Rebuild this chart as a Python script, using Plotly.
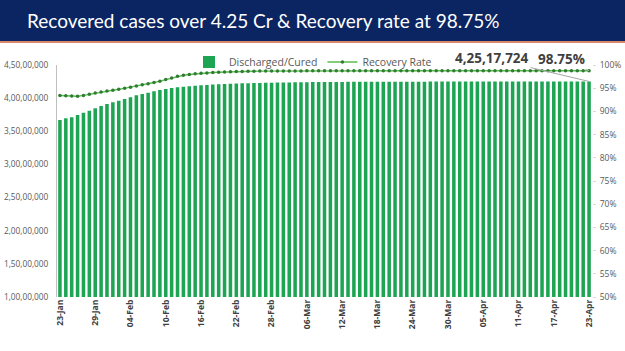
import pandas as pd
import plotly.graph_objects as go

# ---------------- data ----------------
dates = pd.date_range("2022-01-23", "2022-04-23", freq="D")

discharged = [
    36700000, 36960000, 37110000, 37460000, 37800000, 38100000, 38470000, 38810000,
    39120000, 39370000, 39610000, 39870000, 40130000, 40430000, 40620000, 40820000,
    41030000, 41230000, 41380000, 41530000, 41640000, 41730000, 41810000, 41880000,
    41945000, 42000000, 42050000, 42095000, 42135000, 42170000, 42200000, 42228000,
    42252000, 42274000, 42294000, 42312000, 42330000, 42346000, 42361000, 42375000,
    42388000, 42400000, 42409000, 42417000, 42425000, 42432000, 42439000, 42445000,
    42450000, 42455000, 42459000, 42463000, 42467000, 42470000, 42473000, 42476000,
    42479000, 42481000, 42483000, 42485000, 42487000, 42489000, 42491000, 42492500,
    42494000, 42495500, 42497000, 42498500, 42500000, 42501200, 42502400, 42503500,
    42504600, 42505700, 42506700, 42507600, 42508500, 42509300, 42510100, 42510800,
    42511500, 42512200, 42512900, 42513600, 42514300, 42515000, 42515600, 42516200,
    42516700, 42517200, 42517724,
]

recovery_rate = [
    93.42, 93.36, 93.30, 93.27, 93.45, 93.70, 93.94, 94.16, 94.37, 94.55,
    94.75, 94.97, 95.22, 95.46, 95.72, 95.96, 96.23, 96.52, 96.86, 97.22,
    97.56, 97.80, 97.96, 98.09, 98.20, 98.29, 98.37, 98.44, 98.50, 98.55,
    98.59, 98.62, 98.64, 98.66, 98.68, 98.69, 98.70, 98.71, 98.72, 98.72,
    98.73, 98.73, 98.74, 98.74, 98.74, 98.75, 98.75, 98.75, 98.75, 98.75,
    98.75, 98.75, 98.76, 98.76, 98.76, 98.76, 98.76, 98.76, 98.76, 98.76,
    98.76, 98.76, 98.76, 98.76, 98.76, 98.76, 98.76, 98.76, 98.76, 98.76,
    98.76, 98.76, 98.76, 98.76, 98.76, 98.76, 98.76, 98.76, 98.76, 98.76,
    98.76, 98.76, 98.76, 98.75, 98.75, 98.75, 98.75, 98.75, 98.75, 98.75,
    98.75,
]

left_tick_vals = [10000000, 15000000, 20000000, 25000000, 30000000,
                  35000000, 40000000, 45000000]
left_tick_text = ["1,00,00,000", "1,50,00,000", "2,00,00,000", "2,50,00,000",
                  "3,00,00,000", "3,50,00,000", "4,00,00,000", "4,50,00,000"]
right_tick_vals = [50, 55, 60, 65, 70, 75, 80, 85, 90, 95, 100]
right_tick_text = [f"{v}%" for v in right_tick_vals]

title_text = "Recovered cases over 4.25 Cr & Recovery rate at 98.75%"
last_discharged_label = "4,25,17,724"
last_rate_label = "98.75%"

# ---------------- layout geometry ----------------
W, H = 625, 351
ML, MR, MT, MB = 57, 33, 65, 54
PW, PH = W - ML - MR, H - MT - MB


def py(ypx):
    return (H - MB - ypx) / PH


def px(xpx):
    return (xpx - ML) / PW


GREEN = "#1DA553"
GRAY = "#595959"

fig = go.Figure()
fig.add_trace(go.Bar(
    x=dates, y=discharged, name="Discharged/Cured",
    marker=dict(color=GREEN, line=dict(width=0)),
))
fig.add_trace(go.Scatter(
    x=dates, y=recovery_rate, name="Recovery Rate", yaxis="y2",
    mode="lines+markers",
    line=dict(color="#5DBB4F", width=1.4),
    marker=dict(color="#2E7D32", size=3.5, symbol="circle"),
))

# banner
fig.add_shape(type="rect", xref="paper", yref="paper",
              x0=px(0), x1=px(W), y0=py(41), y1=py(0),
              fillcolor="#0B2563", line=dict(width=0), layer="above")
fig.add_shape(type="rect", xref="paper", yref="paper",
              x0=px(0), x1=px(W), y0=py(43), y1=py(41),
              fillcolor="#D9876A", line=dict(width=0), layer="above")

annotations = [
    dict(text=title_text, xref="paper", yref="paper", x=px(263), y=py(21),
         xanchor="center", yanchor="middle", showarrow=False,
         font=dict(family="Lato", size=19, color="white")),
    dict(text=last_discharged_label, x=dates[-1], y=discharged[-1],
         xref="x", yref="y", showarrow=True, arrowhead=0, arrowwidth=1,
         arrowcolor="#A6A6A6", ax=-97, ay=-23, standoff=0,
         font=dict(family="Open Sans", size=13.5, color="#404040", weight="bold")),
    dict(text=last_rate_label, x=dates[-1], y=recovery_rate[-1],
         xref="x", yref="y2", showarrow=True, arrowhead=0, arrowwidth=1,
         arrowcolor="#A6A6A6", ax=-28, ay=-12, standoff=0,
         font=dict(family="Open Sans", size=13.5, color="#404040", weight="bold")),
]

fig.update_layout(
    width=W, height=H,
    margin=dict(l=ML, r=MR, t=MT, b=MB, pad=0, autoexpand=False),
    paper_bgcolor="white", plot_bgcolor="white",
    bargap=0.4,
    showlegend=True,
    legend=dict(orientation="h", x=px(313), y=py(62), xanchor="center",
                yanchor="middle", font=dict(family="Open Sans", size=10.5, color=GRAY),
                bgcolor="rgba(0,0,0,0)", itemwidth=30, tracegroupgap=0),
    annotations=annotations,
    xaxis=dict(
        type="date", automargin=False,
        range=[pd.Timestamp("2022-01-22 12:00"), pd.Timestamp("2022-04-23 12:00")],
        tick0="2022-01-23", dtick=6 * 86400000, tickformat="%d-%b",
        tickangle=-90, showgrid=False, zeroline=False, showline=False,
        ticks="", tickfont=dict(family="Open Sans", size=8.5, color="#404040", weight="bold"),
    ),
    yaxis=dict(
        range=[10000000, 45000000], tickvals=left_tick_vals, ticktext=left_tick_text,
        automargin=False,
        showgrid=False, zeroline=False, showline=True, linecolor="#BFBFBF",
        linewidth=1, ticks="", ticklabelstandoff=6,
        tickfont=dict(family="Open Sans", size=8.3, color=GRAY),
    ),
    yaxis2=dict(
        overlaying="y", side="right", range=[50, 100], automargin=False,
        tickvals=right_tick_vals, ticktext=right_tick_text,
        showgrid=False, zeroline=False, showline=False,
        ticks="outside", ticklen=3, tickcolor="#D9D9D9", ticklabelstandoff=2,
        tickfont=dict(family="Open Sans", size=8.5, color=GRAY),
    ),
)

fig.write_html("out.html")
